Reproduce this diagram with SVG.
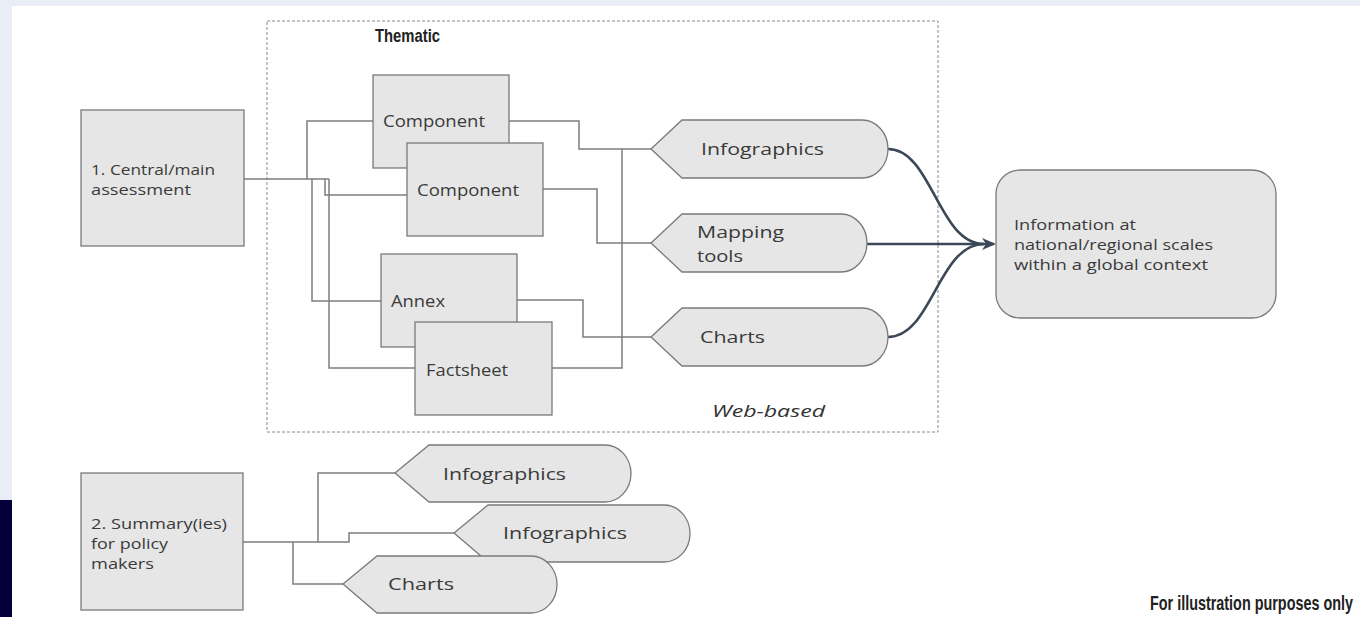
<svg xmlns="http://www.w3.org/2000/svg" width="1360" height="617" viewBox="0 0 1360 617">
<style>
.box{fill:#e6e6e6;stroke:#7a7a7a;stroke-width:1.3}
.t{font-family:"Open Sans","Liberation Sans",sans-serif;font-size:16px;fill:#3a3a3a}
.ts{font-family:"Open Sans","Liberation Sans",sans-serif;font-size:15px;fill:#3a3a3a}
.tl{font-family:"Open Sans","Liberation Sans",sans-serif;font-size:17px;fill:#3a3a3a}
.c{fill:none;stroke:#7d7d7d;stroke-width:1.5}
.a{fill:none;stroke:#3c4858;stroke-width:2.6}
.h{font-family:"Liberation Sans",Arial,sans-serif;font-weight:bold;fill:#222}
</style>
<defs>
<marker id="arr" viewBox="0 0 14 12" refX="12" refY="6" markerWidth="14" markerHeight="12" markerUnits="userSpaceOnUse" orient="auto">
<path d="M0,0 L14,6 L0,12 L4,6 Z" fill="#3c4858"/>
</marker>
</defs>
<rect x="0" y="0" width="1360" height="617" fill="#e9edf5"/>
<rect x="12" y="6" width="1348" height="611" fill="#ffffff"/>
<rect x="0" y="500" width="12" height="117" fill="#05003a"/>
<g id="web-frame">
<rect x="267" y="21" width="671" height="411" fill="none" stroke="#888" stroke-width="1" stroke-dasharray="3,2"/>
<text class="h" x="375" y="42" font-size="19" textLength="65" lengthAdjust="spacingAndGlyphs">Thematic</text>
<text x="712" y="417" font-family="'Open Sans','Liberation Sans',sans-serif" font-style="italic" font-size="17" fill="#333" textLength="113" lengthAdjust="spacingAndGlyphs">Web-based</text>
</g>
<g id="connectors">
<path class="c" d="M244,179 H329"/>
<path class="c" d="M307,179 V121 H373"/>
<path class="c" d="M312,179 V301 H381"/>
<path class="c" d="M325,179 V195 H407"/>
<path class="c" d="M329,179 V368 H415"/>
<path class="c" d="M509,121 H579 V149 H651"/>
<path class="c" d="M543,189 H597 V243 H651"/>
<path class="c" d="M517,300 H583 V337 H651"/>
<path class="c" d="M552,368 H622 V149"/>
<path class="c" d="M243,542 H349 V533 H454"/>
<path class="c" d="M318,542 V473 H395"/>
<path class="c" d="M293,542 V584 H343"/>
<path class="a" d="M888,149 C932,149 938,244 984,244"/>
<path class="a" d="M867,244 H994" marker-end="url(#arr)"/>
<path class="a" d="M888,337 C932,337 938,244 984,244"/>
</g>
<g id="central-assessment">
<rect class="box" x="81" y="110" width="163" height="136"/>
<text class="ts" x="91" y="175" textLength="124" lengthAdjust="spacingAndGlyphs">1. Central/main</text>
<text class="ts" x="91" y="195" textLength="100" lengthAdjust="spacingAndGlyphs">assessment</text>
</g>
<g id="component-1">
<rect class="box" x="373" y="75" width="136" height="93"/>
<text class="t" x="383" y="127" textLength="102" lengthAdjust="spacingAndGlyphs">Component</text>
</g>
<g id="component-2">
<rect class="box" x="407" y="143" width="136" height="93"/>
<text class="t" x="417" y="196" textLength="102" lengthAdjust="spacingAndGlyphs">Component</text>
</g>
<g id="annex">
<rect class="box" x="381" y="254" width="136" height="93"/>
<text class="t" x="391" y="307" textLength="54" lengthAdjust="spacingAndGlyphs">Annex</text>
</g>
<g id="factsheet">
<rect class="box" x="415" y="322" width="137" height="93"/>
<text class="t" x="426" y="376" textLength="82" lengthAdjust="spacingAndGlyphs">Factsheet</text>
</g>
<g id="infographics-web">
<path class="box" d="M651,149 L682,120 H862 A26,29 0 0 1 862,178 H682 Z"/>
<text class="tl" x="701" y="155" textLength="123" lengthAdjust="spacingAndGlyphs">Infographics</text>
</g>
<g id="mapping-tools">
<path class="box" d="M651,243 L682,214 H841 A26,29 0 0 1 841,272 H682 Z"/>
<text class="tl" x="697" y="238" textLength="87" lengthAdjust="spacingAndGlyphs">Mapping</text>
<text class="tl" x="697" y="262" textLength="46" lengthAdjust="spacingAndGlyphs">tools</text>
</g>
<g id="charts-web">
<path class="box" d="M651,337 L682,308 H862 A26,29 0 0 1 862,366 H682 Z"/>
<text class="tl" x="700" y="343" textLength="65" lengthAdjust="spacingAndGlyphs">Charts</text>
</g>
<g id="information">
<rect class="box" x="996" y="170" width="280" height="148" rx="24" ry="24"/>
<text class="ts" x="1014" y="230" textLength="122" lengthAdjust="spacingAndGlyphs">Information at</text>
<text class="ts" x="1014" y="250" textLength="199" lengthAdjust="spacingAndGlyphs">national/regional scales</text>
<text class="ts" x="1014" y="270" textLength="194" lengthAdjust="spacingAndGlyphs">within a global context</text>
</g>
<g id="summary">
<rect class="box" x="81" y="473" width="162" height="137"/>
<text class="ts" x="91" y="529" textLength="136" lengthAdjust="spacingAndGlyphs">2. Summary(ies)</text>
<text class="ts" x="91" y="549" textLength="77" lengthAdjust="spacingAndGlyphs">for policy</text>
<text class="ts" x="91" y="569" textLength="63" lengthAdjust="spacingAndGlyphs">makers</text>
</g>
<g id="infographics-summary-1">
<path class="box" d="M395,473 L429,445 H605 A26,28.5 0 0 1 605,502 H429 Z"/>
<text class="tl" x="443" y="480" textLength="123" lengthAdjust="spacingAndGlyphs">Infographics</text>
</g>
<g id="infographics-summary-2">
<path class="box" d="M454,533 L488,505 H664 A26,28.5 0 0 1 664,562 H488 Z"/>
<text class="tl" x="503" y="539" textLength="124" lengthAdjust="spacingAndGlyphs">Infographics</text>
</g>
<g id="charts-summary">
<path class="box" d="M343,584 L377,556 H531 A26,28.5 0 0 1 531,613 H377 Z"/>
<text class="tl" x="388" y="590" textLength="66" lengthAdjust="spacingAndGlyphs">Charts</text>
</g>
<g id="note">
<text class="h" transform="translate(1150,610) scale(0.72,1)" x="0" y="0" font-size="20">For illustration purposes only</text>
</g>
</svg>
